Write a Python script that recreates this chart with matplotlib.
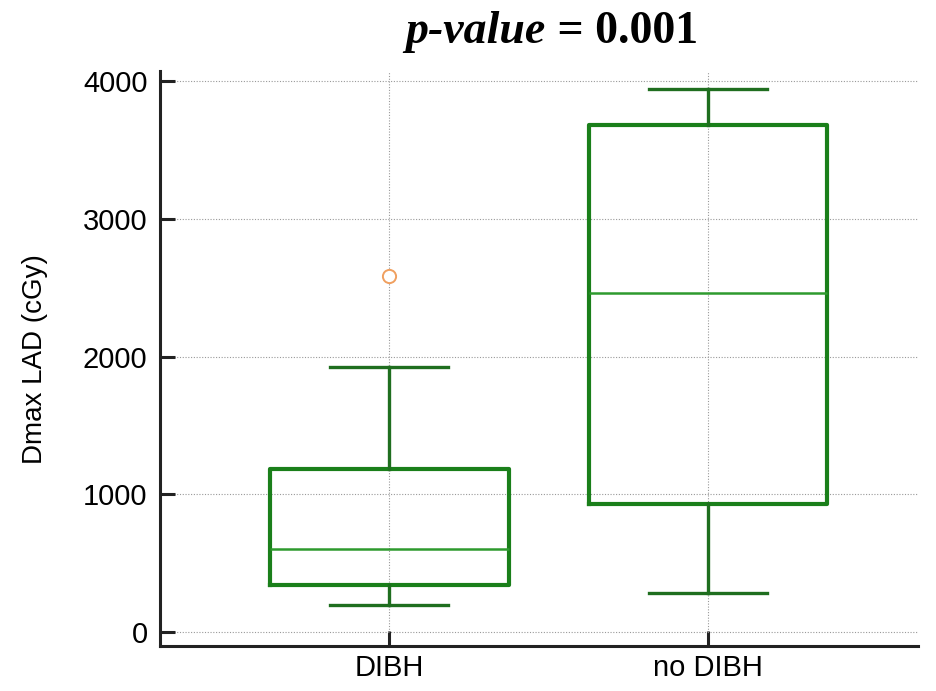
import matplotlib
matplotlib.use("Agg")
import matplotlib.pyplot as plt

# box plot summary values (cGy)
groups = ["DIBH", "no DIBH"]
whisker_low = [196, 283]
q1 = [341, 929]
median = [603, 2461]
q3 = [1183, 3680]
whisker_high = [1924, 3942]
outliers = [[2584], []]
yticks = [0, 1000, 2000, 3000, 4000]

stats = []
for i in range(len(groups)):
    stats.append({"label": groups[i], "whislo": whisker_low[i], "q1": q1[i],
                  "med": median[i], "q3": q3[i], "whishi": whisker_high[i],
                  "fliers": outliers[i]})

fig = plt.figure(figsize=(9.36, 6.91), dpi=100)
ax = fig.add_axes([0.171, 0.065, 0.81, 0.832])

box_green = "#1a7f1a"
ax.bxp(stats, positions=[1, 2], widths=0.75, capwidths=0.37,
       boxprops=dict(color=box_green, linewidth=3),
       whiskerprops=dict(color="#1f6e1f", linewidth=2.4),
       capprops=dict(color="#1f6e1f", linewidth=2.4),
       medianprops=dict(color="#2e9a2e", linewidth=1.8),
       flierprops=dict(marker="o", markersize=9.5, markerfacecolor="white",
                       markeredgecolor="#f0a060", markeredgewidth=1.4))

ax.set_xlim(0.28, 2.66)
ax.set_ylim(-100, 4070)
ax.set_yticks(yticks)
ax.set_xticks([1, 2])
ax.set_xticklabels(groups)

# dotted grid like MedCalc
ax.grid(True, linestyle=(0, (1, 1.5)), color="#999999", linewidth=0.8)
ax.set_axisbelow(True)

for s in ["top", "right"]:
    ax.spines[s].set_visible(False)
for s in ["left", "bottom"]:
    ax.spines[s].set_linewidth(2.2)
    ax.spines[s].set_color("#222222")

ax.tick_params(direction="in", length=11, width=2.2, color="#222222",
               labelsize=21, pad=9)
ax.tick_params(axis="x", pad=6)
for lab in ax.get_xticklabels() + ax.get_yticklabels():
    lab.set_fontfamily("Liberation Sans")

ax.set_ylabel("Dmax LAD (cGy)", fontsize=20, fontfamily="Liberation Sans", labelpad=25)

# title: italic "p-value" followed by upright "= 0.001"
fig.text(0.583, 0.953, "p-value", ha="right", va="center",
         fontsize=33, fontweight="bold", fontstyle="italic",
         fontfamily="Liberation Serif")
fig.text(0.583, 0.953, " = 0.001", ha="left", va="center",
         fontsize=33, fontweight="bold", fontfamily="Liberation Serif")

fig.savefig("out.png", dpi=100)
